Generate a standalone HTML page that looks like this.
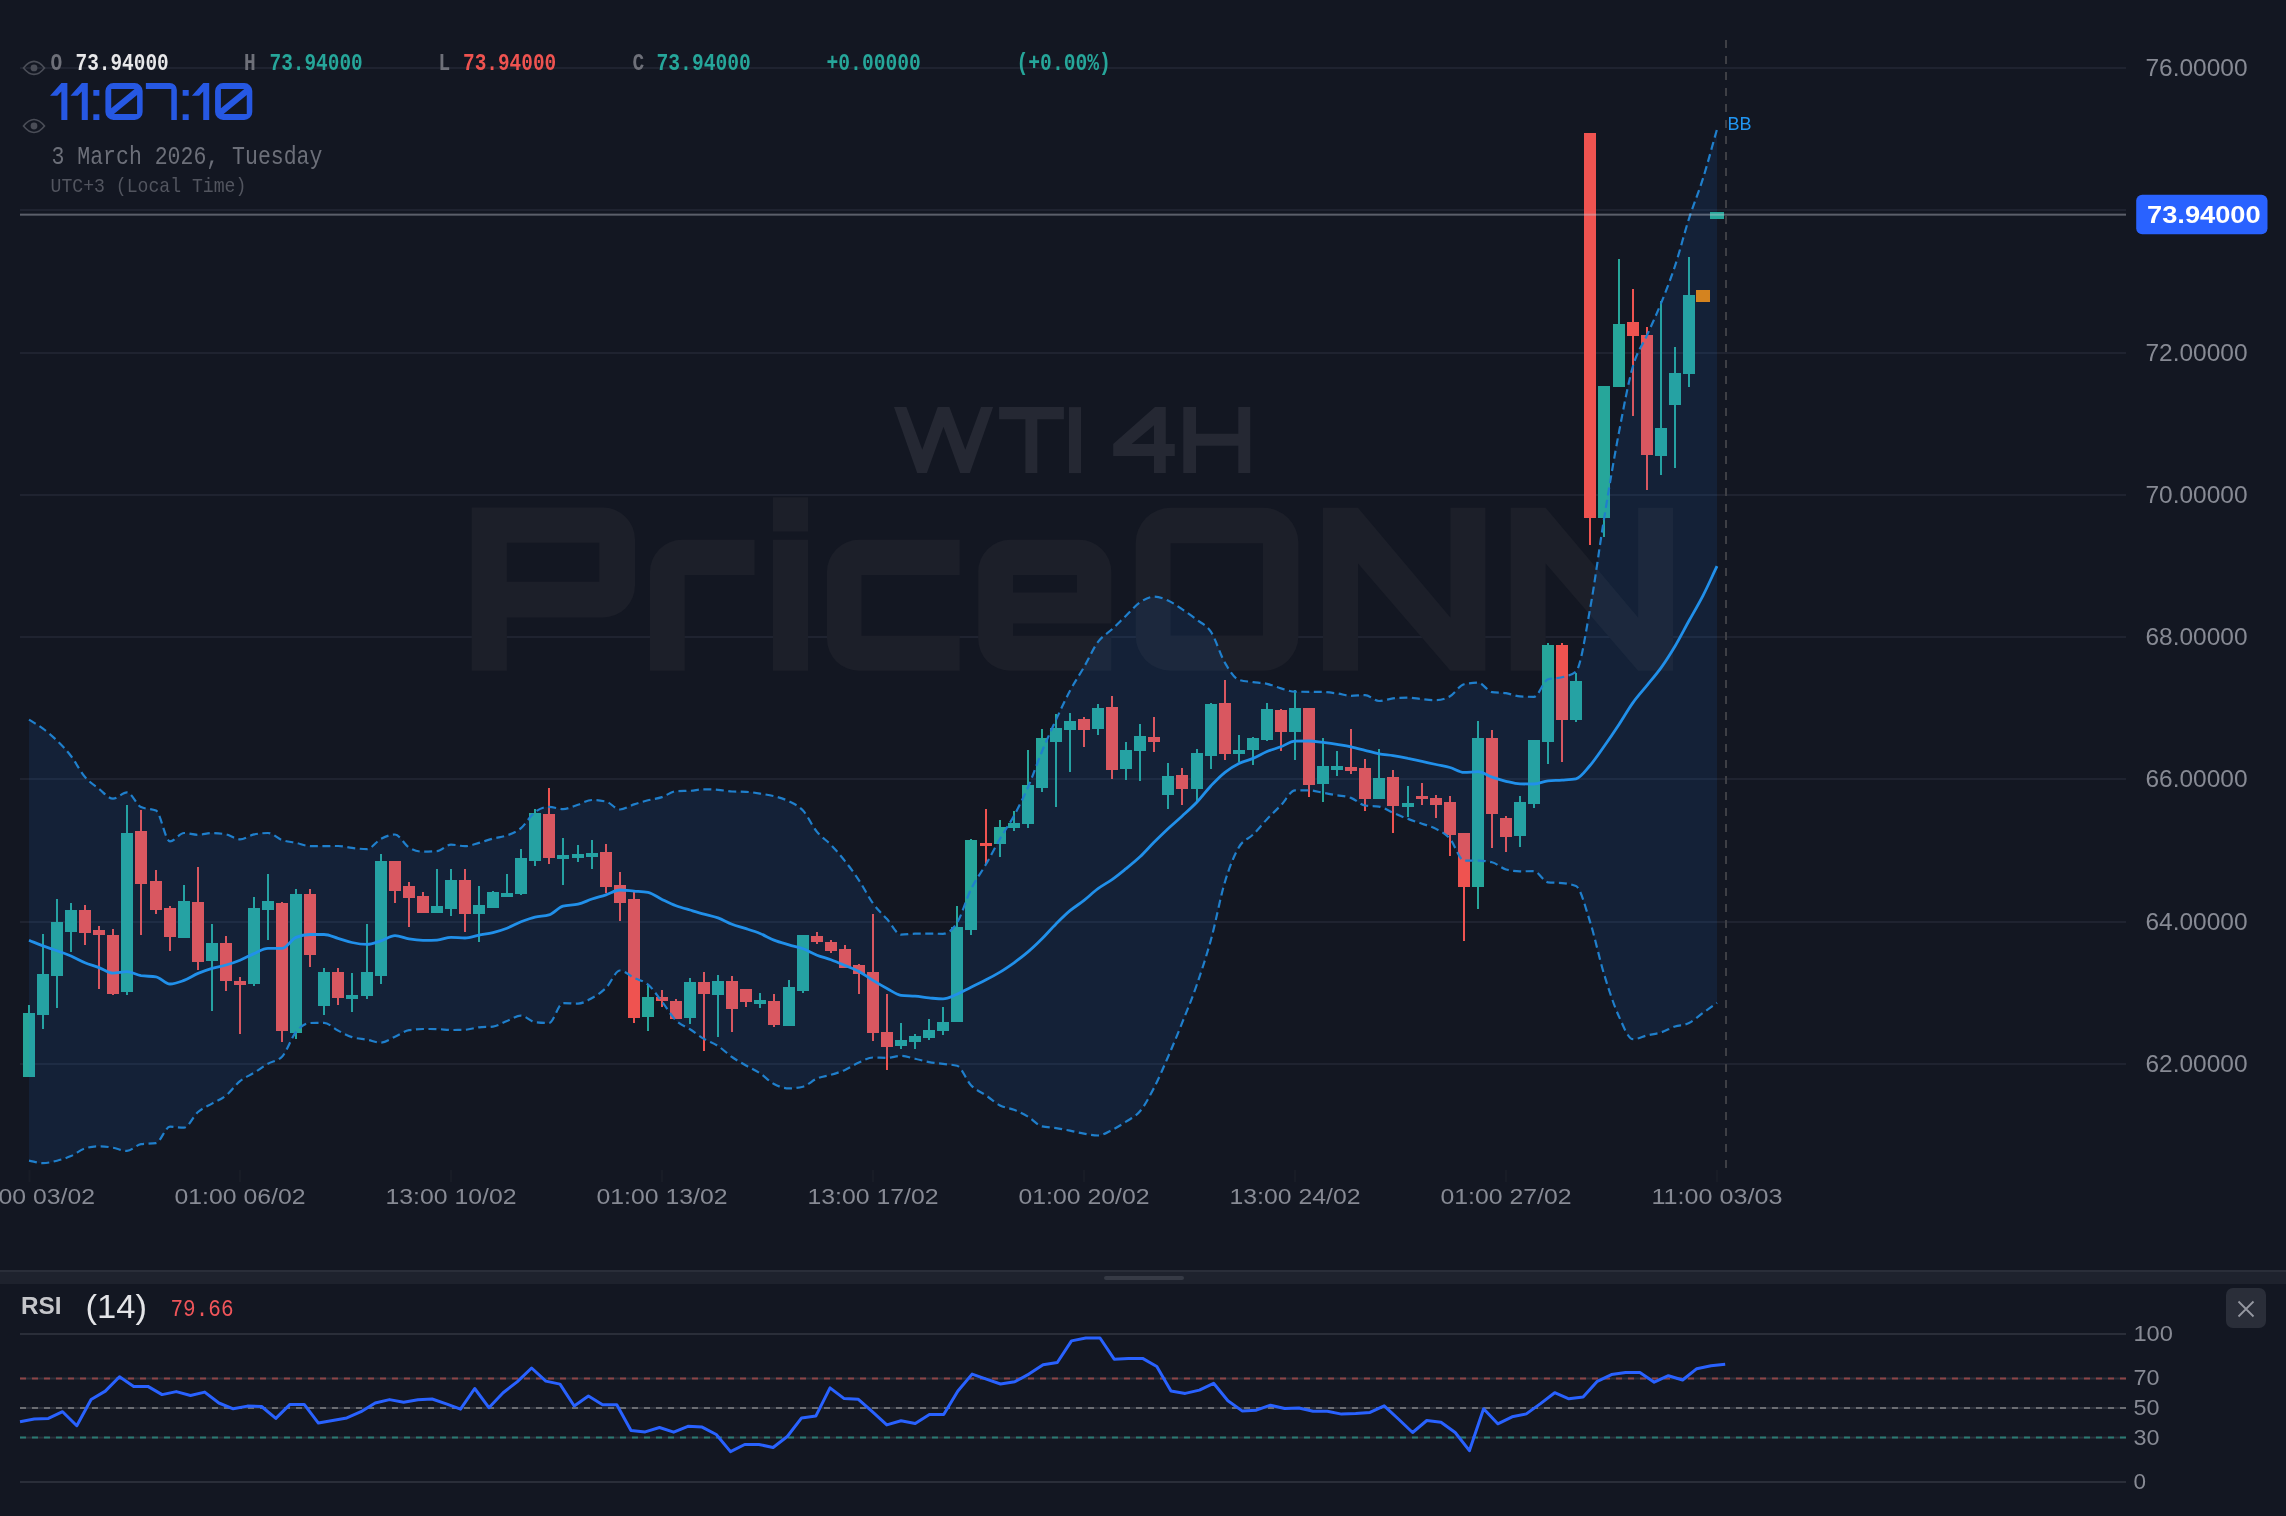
<!DOCTYPE html><html><head><meta charset="utf-8"><style>html,body{margin:0;padding:0;background:#131722;width:2286px;height:1516px;overflow:hidden;position:relative}</style></head><body><svg width="2286" height="1516" viewBox="0 0 2286 1516" style="position:absolute;left:0;top:0;will-change:transform">
<rect x="0" y="0" width="2286" height="1516" fill="#131722"/>
<rect x="20" y="67" width="2106" height="2" fill="#1f2330"/>
<rect x="20" y="209" width="2106" height="2" fill="#1f2330"/>
<rect x="20" y="352" width="2106" height="2" fill="#1f2330"/>
<rect x="20" y="494" width="2106" height="2" fill="#1f2330"/>
<rect x="20" y="636" width="2106" height="2" fill="#1f2330"/>
<rect x="20" y="778" width="2106" height="2" fill="#1f2330"/>
<rect x="20" y="921" width="2106" height="2" fill="#1f2330"/>
<rect x="20" y="1063" width="2106" height="2" fill="#1f2330"/>
<g><polygon fill="#252833" points="894.0,407.1 906.4,407.1 922.3,449.7 937.7,407.1 949.4,407.1 965.3,449.7 981.0,407.1 993.1,407.1 969.9,473.1 960.2,473.1 943.5,426.7 926.9,473.1 917.2,473.1"/><polygon fill="#252833" points="999.1,407.1 1063.9,407.1 1063.9,419.3 1037.3,419.3 1037.3,473.1 1025.4,473.1 1025.4,419.3 999.1,419.3"/><polygon fill="#252833" points="1069.0,407.1 1081.0,407.1 1081.0,473.1 1069.0,473.1"/><polygon fill="#252833" points="1183.3,407.1 1196.0,407.1 1196.0,433.8 1238.3,433.8 1238.3,407.1 1250.2,407.1 1250.2,473.1 1238.3,473.1 1238.3,445.8 1196.0,445.8 1196.0,473.1 1183.3,473.1"/><path fill="#252833" fill-rule="evenodd" d="M1155.0,407.1 L1165.8,407.1 L1165.8,444.1 L1174.8,444.1 L1174.8,456.0 L1165.8,456.0 L1165.8,473.1 L1154.0,473.1 L1154.0,456.0 L1113.2,456.0 L1113.2,444.1 Z M1131.6,444.1 L1154.0,425.3 L1154.0,444.1 Z"/></g>
<path fill="#1c1f29" fill-rule="evenodd" d="M471.7,507.6 H603 A32,32 0 0 1 635,539.6 V585.5 A32,32 0 0 1 603,617.5 H506.9 V670.8 H471.7 Z M506.9,542.8 V581.7 H599.2 V542.8 Z M650,670.8 V571.8 A32,32 0 0 1 682,539.8 H754.6 V575 H684.8 V670.8 Z M773,497.3 H808 V531.6 H773 Z M773,539.8 H808 V670.8 H773 Z M959.7,539.8 H859 A32,32 0 0 0 827,571.8 V638.8 A32,32 0 0 0 859,670.8 H959.7 V635.7 H861.5 V575 H959.7 Z M978.2,571.8 A32,32 0 0 1 1010.2,539.8 H1079.3 A32,32 0 0 1 1111.3,571.8 V623.4 H1013 V635.7 H1111.3 V670.8 H1010.2 A32,32 0 0 1 978.2,638.8 Z M1013,575 V592.6 H1077 V575 Z M1170.7,507.8 H1263.4 A35,35 0 0 1 1298.4,542.8 V635.7 A35,35 0 0 1 1263.4,670.7 H1170.7 A35,35 0 0 1 1135.7,635.7 V542.8 A35,35 0 0 1 1170.7,507.8 Z M1170.7,543.3 V635.4 H1262.9 V543.3 Z M1323,507.8 H1358 L1450.4,617.5 V507.8 H1485.4 V670.7 H1450.4 L1358,563.5 V670.7 H1323 Z M1510.7,507.8 H1545.7 L1638.1000000000001,617.5 V507.8 H1673.1000000000001 V670.7 H1638.1000000000001 L1545.7,563.5 V670.7 H1510.7 Z"/>
<g><rect x="28" y="1005" width="2" height="72" fill="#26a69a"/><rect x="23" y="1013" width="12" height="64" fill="#26a69a"/><rect x="42" y="934" width="2" height="95" fill="#26a69a"/><rect x="37" y="974" width="12" height="41" fill="#26a69a"/><rect x="56" y="899" width="2" height="109" fill="#26a69a"/><rect x="51" y="922" width="12" height="54" fill="#26a69a"/><rect x="70" y="903" width="2" height="49" fill="#26a69a"/><rect x="65" y="910" width="12" height="22" fill="#26a69a"/><rect x="84" y="905" width="2" height="40" fill="#ef5350"/><rect x="79" y="910" width="12" height="23" fill="#ef5350"/><rect x="98" y="926" width="2" height="63" fill="#ef5350"/><rect x="93" y="930" width="12" height="5" fill="#ef5350"/><rect x="112" y="929" width="2" height="66" fill="#ef5350"/><rect x="107" y="935" width="12" height="59" fill="#ef5350"/><rect x="126" y="805" width="2" height="190" fill="#26a69a"/><rect x="121" y="833" width="12" height="159" fill="#26a69a"/><rect x="140" y="810" width="2" height="125" fill="#ef5350"/><rect x="135" y="831" width="12" height="53" fill="#ef5350"/><rect x="155" y="870" width="2" height="44" fill="#ef5350"/><rect x="150" y="881" width="12" height="29" fill="#ef5350"/><rect x="169" y="906" width="2" height="45" fill="#ef5350"/><rect x="164" y="908" width="12" height="29" fill="#ef5350"/><rect x="183" y="885" width="2" height="53" fill="#26a69a"/><rect x="178" y="901" width="12" height="37" fill="#26a69a"/><rect x="197" y="867" width="2" height="103" fill="#ef5350"/><rect x="192" y="902" width="12" height="60" fill="#ef5350"/><rect x="211" y="924" width="2" height="87" fill="#26a69a"/><rect x="206" y="943" width="12" height="18" fill="#26a69a"/><rect x="225" y="936" width="2" height="55" fill="#ef5350"/><rect x="220" y="943" width="12" height="38" fill="#ef5350"/><rect x="239" y="977" width="2" height="57" fill="#ef5350"/><rect x="234" y="981" width="12" height="4" fill="#ef5350"/><rect x="253" y="897" width="2" height="89" fill="#26a69a"/><rect x="248" y="908" width="12" height="76" fill="#26a69a"/><rect x="267" y="874" width="2" height="66" fill="#26a69a"/><rect x="262" y="901" width="12" height="9" fill="#26a69a"/><rect x="281" y="902" width="2" height="140" fill="#ef5350"/><rect x="276" y="903" width="12" height="128" fill="#ef5350"/><rect x="295" y="889" width="2" height="150" fill="#26a69a"/><rect x="290" y="894" width="12" height="139" fill="#26a69a"/><rect x="309" y="889" width="2" height="78" fill="#ef5350"/><rect x="304" y="894" width="12" height="61" fill="#ef5350"/><rect x="323" y="968" width="2" height="47" fill="#26a69a"/><rect x="318" y="972" width="12" height="34" fill="#26a69a"/><rect x="337" y="968" width="2" height="37" fill="#ef5350"/><rect x="332" y="972" width="12" height="26" fill="#ef5350"/><rect x="351" y="973" width="2" height="39" fill="#26a69a"/><rect x="346" y="995" width="12" height="4" fill="#26a69a"/><rect x="366" y="924" width="2" height="75" fill="#26a69a"/><rect x="361" y="972" width="12" height="24" fill="#26a69a"/><rect x="380" y="854" width="2" height="130" fill="#26a69a"/><rect x="375" y="861" width="12" height="115" fill="#26a69a"/><rect x="394" y="861" width="2" height="42" fill="#ef5350"/><rect x="389" y="861" width="12" height="30" fill="#ef5350"/><rect x="408" y="882" width="2" height="45" fill="#ef5350"/><rect x="403" y="886" width="12" height="12" fill="#ef5350"/><rect x="422" y="892" width="2" height="21" fill="#ef5350"/><rect x="417" y="896" width="12" height="17" fill="#ef5350"/><rect x="436" y="869" width="2" height="44" fill="#26a69a"/><rect x="431" y="906" width="12" height="7" fill="#26a69a"/><rect x="450" y="869" width="2" height="47" fill="#26a69a"/><rect x="445" y="880" width="12" height="29" fill="#26a69a"/><rect x="464" y="869" width="2" height="63" fill="#ef5350"/><rect x="459" y="880" width="12" height="34" fill="#ef5350"/><rect x="478" y="886" width="2" height="56" fill="#26a69a"/><rect x="473" y="905" width="12" height="9" fill="#26a69a"/><rect x="492" y="891" width="2" height="17" fill="#26a69a"/><rect x="487" y="892" width="12" height="16" fill="#26a69a"/><rect x="506" y="874" width="2" height="23" fill="#26a69a"/><rect x="501" y="893" width="12" height="4" fill="#26a69a"/><rect x="520" y="849" width="2" height="46" fill="#26a69a"/><rect x="515" y="858" width="12" height="36" fill="#26a69a"/><rect x="534" y="809" width="2" height="57" fill="#26a69a"/><rect x="529" y="813" width="12" height="48" fill="#26a69a"/><rect x="548" y="788" width="2" height="76" fill="#ef5350"/><rect x="543" y="814" width="12" height="44" fill="#ef5350"/><rect x="562" y="838" width="2" height="47" fill="#26a69a"/><rect x="557" y="855" width="12" height="4" fill="#26a69a"/><rect x="577" y="845" width="2" height="17" fill="#26a69a"/><rect x="572" y="854" width="12" height="4" fill="#26a69a"/><rect x="591" y="840" width="2" height="29" fill="#26a69a"/><rect x="586" y="853" width="12" height="4" fill="#26a69a"/><rect x="605" y="844" width="2" height="49" fill="#ef5350"/><rect x="600" y="852" width="12" height="35" fill="#ef5350"/><rect x="619" y="872" width="2" height="49" fill="#ef5350"/><rect x="614" y="885" width="12" height="18" fill="#ef5350"/><rect x="633" y="892" width="2" height="131" fill="#ef5350"/><rect x="628" y="899" width="12" height="119" fill="#ef5350"/><rect x="647" y="985" width="2" height="46" fill="#26a69a"/><rect x="642" y="997" width="12" height="20" fill="#26a69a"/><rect x="661" y="990" width="2" height="17" fill="#ef5350"/><rect x="656" y="997" width="12" height="4" fill="#ef5350"/><rect x="675" y="999" width="2" height="20" fill="#ef5350"/><rect x="670" y="1001" width="12" height="18" fill="#ef5350"/><rect x="689" y="978" width="2" height="46" fill="#26a69a"/><rect x="684" y="982" width="12" height="36" fill="#26a69a"/><rect x="703" y="972" width="2" height="79" fill="#ef5350"/><rect x="698" y="982" width="12" height="12" fill="#ef5350"/><rect x="717" y="975" width="2" height="62" fill="#26a69a"/><rect x="712" y="981" width="12" height="14" fill="#26a69a"/><rect x="731" y="976" width="2" height="56" fill="#ef5350"/><rect x="726" y="981" width="12" height="28" fill="#ef5350"/><rect x="745" y="989" width="2" height="18" fill="#ef5350"/><rect x="740" y="989" width="12" height="13" fill="#ef5350"/><rect x="759" y="993" width="2" height="15" fill="#26a69a"/><rect x="754" y="1000" width="12" height="4" fill="#26a69a"/><rect x="773" y="994" width="2" height="33" fill="#ef5350"/><rect x="768" y="1001" width="12" height="24" fill="#ef5350"/><rect x="788" y="980" width="2" height="46" fill="#26a69a"/><rect x="783" y="987" width="12" height="39" fill="#26a69a"/><rect x="802" y="935" width="2" height="58" fill="#26a69a"/><rect x="797" y="935" width="12" height="56" fill="#26a69a"/><rect x="816" y="932" width="2" height="12" fill="#ef5350"/><rect x="811" y="936" width="12" height="6" fill="#ef5350"/><rect x="830" y="940" width="2" height="13" fill="#ef5350"/><rect x="825" y="942" width="12" height="9" fill="#ef5350"/><rect x="844" y="945" width="2" height="23" fill="#ef5350"/><rect x="839" y="949" width="12" height="19" fill="#ef5350"/><rect x="858" y="964" width="2" height="30" fill="#ef5350"/><rect x="853" y="965" width="12" height="9" fill="#ef5350"/><rect x="872" y="914" width="2" height="127" fill="#ef5350"/><rect x="867" y="972" width="12" height="61" fill="#ef5350"/><rect x="886" y="994" width="2" height="76" fill="#ef5350"/><rect x="881" y="1032" width="12" height="15" fill="#ef5350"/><rect x="900" y="1023" width="2" height="26" fill="#26a69a"/><rect x="895" y="1040" width="12" height="6" fill="#26a69a"/><rect x="914" y="1034" width="2" height="15" fill="#26a69a"/><rect x="909" y="1036" width="12" height="6" fill="#26a69a"/><rect x="928" y="1019" width="2" height="21" fill="#26a69a"/><rect x="923" y="1030" width="12" height="8" fill="#26a69a"/><rect x="942" y="1007" width="2" height="28" fill="#26a69a"/><rect x="937" y="1022" width="12" height="9" fill="#26a69a"/><rect x="956" y="906" width="2" height="116" fill="#26a69a"/><rect x="951" y="927" width="12" height="95" fill="#26a69a"/><rect x="970" y="839" width="2" height="96" fill="#26a69a"/><rect x="965" y="840" width="12" height="90" fill="#26a69a"/><rect x="985" y="809" width="2" height="55" fill="#ef5350"/><rect x="980" y="843" width="12" height="3" fill="#ef5350"/><rect x="999" y="820" width="2" height="37" fill="#26a69a"/><rect x="994" y="827" width="12" height="17" fill="#26a69a"/><rect x="1013" y="811" width="2" height="20" fill="#26a69a"/><rect x="1008" y="823" width="12" height="5" fill="#26a69a"/><rect x="1027" y="750" width="2" height="78" fill="#26a69a"/><rect x="1022" y="785" width="12" height="39" fill="#26a69a"/><rect x="1041" y="729" width="2" height="63" fill="#26a69a"/><rect x="1036" y="738" width="12" height="50" fill="#26a69a"/><rect x="1055" y="714" width="2" height="93" fill="#26a69a"/><rect x="1050" y="728" width="12" height="14" fill="#26a69a"/><rect x="1069" y="713" width="2" height="59" fill="#26a69a"/><rect x="1064" y="721" width="12" height="9" fill="#26a69a"/><rect x="1083" y="717" width="2" height="30" fill="#ef5350"/><rect x="1078" y="719" width="12" height="11" fill="#ef5350"/><rect x="1097" y="704" width="2" height="31" fill="#26a69a"/><rect x="1092" y="708" width="12" height="21" fill="#26a69a"/><rect x="1111" y="696" width="2" height="83" fill="#ef5350"/><rect x="1106" y="707" width="12" height="63" fill="#ef5350"/><rect x="1125" y="742" width="2" height="38" fill="#26a69a"/><rect x="1120" y="750" width="12" height="19" fill="#26a69a"/><rect x="1139" y="724" width="2" height="57" fill="#26a69a"/><rect x="1134" y="736" width="12" height="15" fill="#26a69a"/><rect x="1153" y="717" width="2" height="35" fill="#ef5350"/><rect x="1148" y="737" width="12" height="5" fill="#ef5350"/><rect x="1167" y="763" width="2" height="46" fill="#26a69a"/><rect x="1162" y="776" width="12" height="19" fill="#26a69a"/><rect x="1181" y="768" width="2" height="37" fill="#ef5350"/><rect x="1176" y="775" width="12" height="14" fill="#ef5350"/><rect x="1196" y="749" width="2" height="52" fill="#26a69a"/><rect x="1191" y="753" width="12" height="36" fill="#26a69a"/><rect x="1210" y="703" width="2" height="66" fill="#26a69a"/><rect x="1205" y="704" width="12" height="52" fill="#26a69a"/><rect x="1224" y="680" width="2" height="80" fill="#ef5350"/><rect x="1219" y="703" width="12" height="51" fill="#ef5350"/><rect x="1238" y="735" width="2" height="27" fill="#26a69a"/><rect x="1233" y="750" width="12" height="4" fill="#26a69a"/><rect x="1252" y="737" width="2" height="28" fill="#26a69a"/><rect x="1247" y="738" width="12" height="12" fill="#26a69a"/><rect x="1266" y="703" width="2" height="38" fill="#26a69a"/><rect x="1261" y="709" width="12" height="31" fill="#26a69a"/><rect x="1280" y="709" width="2" height="42" fill="#ef5350"/><rect x="1275" y="710" width="12" height="22" fill="#ef5350"/><rect x="1294" y="690" width="2" height="70" fill="#26a69a"/><rect x="1289" y="708" width="12" height="24" fill="#26a69a"/><rect x="1308" y="708" width="2" height="89" fill="#ef5350"/><rect x="1303" y="708" width="12" height="77" fill="#ef5350"/><rect x="1322" y="738" width="2" height="64" fill="#26a69a"/><rect x="1317" y="766" width="12" height="18" fill="#26a69a"/><rect x="1336" y="751" width="2" height="25" fill="#26a69a"/><rect x="1331" y="766" width="12" height="4" fill="#26a69a"/><rect x="1350" y="729" width="2" height="45" fill="#ef5350"/><rect x="1345" y="767" width="12" height="4" fill="#ef5350"/><rect x="1364" y="759" width="2" height="52" fill="#ef5350"/><rect x="1359" y="768" width="12" height="31" fill="#ef5350"/><rect x="1378" y="749" width="2" height="50" fill="#26a69a"/><rect x="1373" y="778" width="12" height="21" fill="#26a69a"/><rect x="1392" y="770" width="2" height="63" fill="#ef5350"/><rect x="1387" y="777" width="12" height="29" fill="#ef5350"/><rect x="1407" y="786" width="2" height="31" fill="#26a69a"/><rect x="1402" y="803" width="12" height="4" fill="#26a69a"/><rect x="1421" y="783" width="2" height="22" fill="#ef5350"/><rect x="1416" y="796" width="12" height="3" fill="#ef5350"/><rect x="1435" y="795" width="2" height="23" fill="#ef5350"/><rect x="1430" y="798" width="12" height="7" fill="#ef5350"/><rect x="1449" y="796" width="2" height="60" fill="#ef5350"/><rect x="1444" y="802" width="12" height="33" fill="#ef5350"/><rect x="1463" y="833" width="2" height="108" fill="#ef5350"/><rect x="1458" y="833" width="12" height="54" fill="#ef5350"/><rect x="1477" y="721" width="2" height="188" fill="#26a69a"/><rect x="1472" y="738" width="12" height="149" fill="#26a69a"/><rect x="1491" y="730" width="2" height="118" fill="#ef5350"/><rect x="1486" y="738" width="12" height="76" fill="#ef5350"/><rect x="1505" y="816" width="2" height="36" fill="#ef5350"/><rect x="1500" y="818" width="12" height="19" fill="#ef5350"/><rect x="1519" y="796" width="2" height="51" fill="#26a69a"/><rect x="1514" y="802" width="12" height="34" fill="#26a69a"/><rect x="1533" y="740" width="2" height="68" fill="#26a69a"/><rect x="1528" y="740" width="12" height="64" fill="#26a69a"/><rect x="1547" y="643" width="2" height="121" fill="#26a69a"/><rect x="1542" y="645" width="12" height="97" fill="#26a69a"/><rect x="1561" y="643" width="2" height="119" fill="#ef5350"/><rect x="1556" y="645" width="12" height="75" fill="#ef5350"/><rect x="1575" y="673" width="2" height="49" fill="#26a69a"/><rect x="1570" y="681" width="12" height="39" fill="#26a69a"/><rect x="1589" y="133" width="2" height="412" fill="#ef5350"/><rect x="1584" y="133" width="12" height="385" fill="#ef5350"/><rect x="1603" y="386" width="2" height="151" fill="#26a69a"/><rect x="1598" y="386" width="12" height="132" fill="#26a69a"/><rect x="1618" y="259" width="2" height="128" fill="#26a69a"/><rect x="1613" y="324" width="12" height="63" fill="#26a69a"/><rect x="1632" y="289" width="2" height="127" fill="#ef5350"/><rect x="1627" y="322" width="12" height="14" fill="#ef5350"/><rect x="1646" y="327" width="2" height="163" fill="#ef5350"/><rect x="1641" y="335" width="12" height="120" fill="#ef5350"/><rect x="1660" y="301" width="2" height="174" fill="#26a69a"/><rect x="1655" y="428" width="12" height="28" fill="#26a69a"/><rect x="1674" y="347" width="2" height="121" fill="#26a69a"/><rect x="1669" y="373" width="12" height="32" fill="#26a69a"/><rect x="1688" y="257" width="2" height="130" fill="#26a69a"/><rect x="1683" y="295" width="12" height="79" fill="#26a69a"/></g>
<path d="M29.0,719.6 C33.7,722.6 38.3,725.2 43.0,728.7 C47.7,732.2 52.3,736.1 57.0,740.6 C61.7,745.1 66.3,749.9 71.0,756.0 C75.7,762.1 80.3,771.5 85.0,777.0 C89.7,782.5 94.3,785.3 99.0,788.9 C103.7,792.5 108.3,798.7 113.0,798.7 C117.7,798.7 122.3,792.4 127.0,792.4 C131.7,792.4 136.3,804.9 141.0,807.1 C146.0,809.4 151.0,808.3 156.0,810.6 C160.7,812.8 165.3,841.4 170.0,841.4 C174.7,841.4 179.3,833.0 184.0,833.0 C188.7,833.0 193.3,834.8 198.0,834.8 C202.7,834.8 207.3,833.0 212.0,833.0 C216.7,833.0 221.3,833.5 226.0,834.4 C230.7,835.3 235.3,839.3 240.0,839.3 C244.7,839.3 249.3,835.3 254.0,834.4 C258.7,833.5 263.3,833.0 268.0,833.0 C272.7,833.0 277.3,838.4 282.0,840.0 C286.7,841.6 291.3,841.9 296.0,842.9 C300.7,843.9 305.3,846.0 310.0,846.1 C314.7,846.1 319.3,846.1 324.0,846.1 C328.7,846.1 333.3,846.0 338.0,846.0 C342.7,846.0 347.3,847.4 352.0,847.9 C357.0,848.5 362.0,849.1 367.0,849.1 C371.7,849.1 376.3,841.3 381.0,838.8 C385.7,836.4 390.3,834.5 395.0,834.5 C399.7,834.5 404.3,844.8 409.0,847.5 C413.7,850.3 418.3,851.7 423.0,851.7 C427.7,851.7 432.3,851.5 437.0,851.2 C441.7,850.9 446.3,844.6 451.0,844.6 C455.7,844.6 460.3,846.2 465.0,846.2 C469.7,846.2 474.3,844.2 479.0,842.9 C483.7,841.6 488.3,839.8 493.0,838.6 C497.7,837.3 502.3,837.1 507.0,835.4 C511.7,833.6 516.3,832.0 521.0,828.1 C525.7,824.2 530.3,815.4 535.0,812.0 C539.7,808.6 544.3,806.8 549.0,806.8 C553.7,806.8 558.3,809.1 563.0,809.1 C568.0,809.1 573.0,806.2 578.0,804.7 C582.7,803.2 587.3,800.0 592.0,800.0 C596.7,800.0 601.3,800.6 606.0,801.6 C610.7,802.6 615.3,809.5 620.0,809.5 C624.7,809.5 629.3,805.9 634.0,804.4 C638.7,802.8 643.3,801.5 648.0,800.3 C652.7,799.1 657.3,798.6 662.0,797.1 C666.7,795.6 671.3,791.5 676.0,791.2 C680.7,790.9 685.3,791.0 690.0,790.8 C694.7,790.5 699.3,789.3 704.0,789.3 C708.7,789.3 713.3,789.5 718.0,789.8 C722.7,790.1 727.3,791.4 732.0,791.5 C736.7,791.7 741.3,791.6 746.0,791.8 C750.7,792.0 755.3,792.9 760.0,793.6 C764.7,794.4 769.3,795.0 774.0,796.2 C779.0,797.5 784.0,798.7 789.0,801.3 C793.7,803.6 798.3,805.5 803.0,810.6 C807.7,815.7 812.3,826.2 817.0,831.9 C821.7,837.6 826.3,840.0 831.0,844.9 C835.7,849.7 840.3,855.2 845.0,861.1 C849.7,867.0 854.3,873.2 859.0,880.3 C863.7,887.3 868.3,896.9 873.0,903.4 C877.7,909.9 882.3,913.9 887.0,919.1 C891.7,924.3 896.3,934.7 901.0,934.7 C905.7,934.7 910.3,933.8 915.0,933.7 C919.7,933.7 924.3,933.6 929.0,933.6 C933.7,933.6 938.3,933.8 943.0,933.8 C947.7,933.8 952.3,930.2 957.0,922.8 C961.7,915.5 966.3,898.7 971.0,889.2 C976.0,879.0 981.0,872.9 986.0,864.2 C990.7,856.1 995.3,846.9 1000.0,838.8 C1004.7,830.7 1009.3,824.4 1014.0,815.7 C1018.7,807.1 1023.3,797.9 1028.0,787.2 C1032.7,776.4 1037.3,762.5 1042.0,751.3 C1046.7,740.0 1051.3,729.9 1056.0,719.8 C1060.7,709.7 1065.3,699.5 1070.0,690.7 C1074.7,681.9 1079.3,675.3 1084.0,667.1 C1088.7,659.0 1093.3,648.2 1098.0,641.9 C1102.7,635.6 1107.3,633.7 1112.0,629.3 C1116.7,625.0 1121.3,620.2 1126.0,615.7 C1130.7,611.3 1135.3,605.5 1140.0,602.4 C1144.7,599.2 1149.3,596.7 1154.0,596.7 C1158.7,596.7 1163.3,598.4 1168.0,600.5 C1172.7,602.6 1177.3,606.1 1182.0,609.2 C1187.0,612.5 1192.0,615.9 1197.0,619.9 C1201.7,623.6 1206.3,624.7 1211.0,631.9 C1215.7,639.1 1220.3,654.9 1225.0,662.9 C1229.7,670.9 1234.3,678.5 1239.0,679.9 C1243.7,681.4 1248.3,681.4 1253.0,682.1 C1257.7,682.7 1262.3,682.8 1267.0,683.8 C1271.7,684.9 1276.3,687.1 1281.0,688.4 C1285.7,689.7 1290.3,691.7 1295.0,691.7 C1299.7,691.8 1304.3,691.7 1309.0,691.8 C1313.7,691.8 1318.3,691.9 1323.0,692.0 C1327.7,692.2 1332.3,692.8 1337.0,693.4 C1341.7,694.0 1346.3,695.8 1351.0,695.8 C1355.7,695.8 1360.3,695.1 1365.0,695.1 C1369.7,695.1 1374.3,701.0 1379.0,701.0 C1383.7,701.0 1388.3,699.0 1393.0,698.4 C1398.0,697.9 1403.0,697.6 1408.0,697.6 C1412.7,697.6 1417.3,698.7 1422.0,699.1 C1426.7,699.6 1431.3,700.2 1436.0,700.2 C1440.7,700.2 1445.3,698.9 1450.0,696.2 C1454.7,693.6 1459.3,685.4 1464.0,684.3 C1468.7,683.2 1473.3,682.6 1478.0,682.6 C1482.7,682.6 1487.3,691.4 1492.0,692.1 C1496.7,692.8 1501.3,692.4 1506.0,693.1 C1510.7,693.8 1515.3,696.2 1520.0,696.4 C1524.7,696.7 1529.3,696.8 1534.0,696.8 C1538.7,696.8 1543.3,680.6 1548.0,679.3 C1552.7,677.9 1557.3,678.6 1562.0,677.3 C1566.7,676.0 1571.3,675.3 1576.0,671.5 C1580.7,667.6 1585.3,634.7 1590.0,609.3 C1594.7,583.9 1599.3,547.7 1604.0,519.0 C1609.0,488.4 1614.0,458.3 1619.0,432.1 C1623.7,407.7 1628.3,382.1 1633.0,366.0 C1637.7,349.8 1642.3,345.8 1647.0,335.3 C1651.7,324.9 1656.3,314.9 1661.0,303.4 C1665.7,291.8 1670.3,280.1 1675.0,266.0 C1679.7,251.9 1684.3,233.2 1689.0,218.6 C1693.7,204.0 1698.3,193.3 1703.0,178.4 C1707.7,163.6 1712.3,145.7 1717.0,129.4 L1717.0,1002.9 C1712.3,1006.3 1707.7,1009.5 1703.0,1012.9 C1698.3,1016.2 1693.7,1020.8 1689.0,1023.1 C1684.3,1025.4 1679.7,1025.0 1675.0,1026.5 C1670.3,1028.1 1665.7,1030.9 1661.0,1032.4 C1656.3,1033.9 1651.7,1034.3 1647.0,1035.4 C1642.3,1036.6 1637.7,1039.2 1633.0,1039.2 C1628.3,1039.2 1623.7,1026.9 1619.0,1016.6 C1614.0,1005.6 1609.0,990.4 1604.0,973.9 C1599.3,958.5 1594.7,936.3 1590.0,921.6 C1585.3,907.0 1580.7,888.2 1576.0,886.1 C1571.3,884.1 1566.7,883.5 1562.0,883.1 C1557.3,882.6 1552.7,882.8 1548.0,882.3 C1543.3,881.9 1538.7,871.2 1534.0,871.2 C1529.3,871.2 1524.7,871.3 1520.0,871.3 C1515.3,871.3 1510.7,870.7 1506.0,869.5 C1501.3,868.2 1496.7,863.3 1492.0,862.3 C1487.3,861.2 1482.7,860.8 1478.0,860.7 C1473.3,860.6 1468.7,860.7 1464.0,860.6 C1459.3,860.5 1454.7,844.1 1450.0,838.8 C1445.3,833.5 1440.7,831.4 1436.0,828.9 C1431.3,826.4 1426.7,825.4 1422.0,823.7 C1417.3,822.1 1412.7,820.7 1408.0,818.9 C1403.0,817.1 1398.0,814.9 1393.0,812.7 C1388.3,810.7 1383.7,807.3 1379.0,806.6 C1374.3,805.9 1369.7,806.3 1365.0,805.5 C1360.3,804.8 1355.7,799.6 1351.0,797.9 C1346.3,796.1 1341.7,796.1 1337.0,795.3 C1332.3,794.4 1327.7,793.7 1323.0,792.8 C1318.3,792.0 1313.7,790.3 1309.0,790.3 C1304.3,790.3 1299.7,790.3 1295.0,790.4 C1290.3,790.5 1285.7,800.4 1281.0,805.2 C1276.3,810.0 1271.7,814.3 1267.0,819.2 C1262.3,824.1 1257.7,830.1 1253.0,834.7 C1248.3,839.3 1243.7,839.2 1239.0,847.1 C1234.3,854.9 1229.7,866.3 1225.0,881.7 C1220.3,897.2 1215.7,922.5 1211.0,939.5 C1206.3,956.6 1201.7,970.6 1197.0,984.2 C1192.0,998.7 1187.0,1010.7 1182.0,1023.2 C1177.3,1034.9 1172.7,1046.2 1168.0,1057.0 C1163.3,1067.8 1158.7,1078.8 1154.0,1087.9 C1149.3,1096.9 1144.7,1105.7 1140.0,1111.3 C1135.3,1116.9 1130.7,1118.6 1126.0,1121.7 C1121.3,1124.8 1116.7,1127.6 1112.0,1129.9 C1107.3,1132.2 1102.7,1135.5 1098.0,1135.5 C1093.3,1135.5 1088.7,1134.5 1084.0,1133.7 C1079.3,1132.9 1074.7,1131.6 1070.0,1130.7 C1065.3,1129.8 1060.7,1128.8 1056.0,1128.1 C1051.3,1127.4 1046.7,1127.5 1042.0,1126.4 C1037.3,1125.2 1032.7,1119.5 1028.0,1116.7 C1023.3,1114.0 1018.7,1111.7 1014.0,1109.8 C1009.3,1107.9 1004.7,1107.8 1000.0,1105.4 C995.3,1103.0 990.7,1098.6 986.0,1095.4 C981.0,1091.9 976.0,1090.4 971.0,1085.2 C966.3,1080.3 961.7,1066.9 957.0,1065.7 C952.3,1064.5 947.7,1064.6 943.0,1063.9 C938.3,1063.3 933.7,1062.9 929.0,1062.1 C924.3,1061.2 919.7,1059.7 915.0,1058.7 C910.3,1057.7 905.7,1055.9 901.0,1055.9 C896.3,1055.9 891.7,1057.8 887.0,1057.8 C882.3,1057.8 877.7,1057.5 873.0,1057.5 C868.3,1057.5 863.7,1060.5 859.0,1062.6 C854.3,1064.6 849.7,1067.8 845.0,1069.9 C840.3,1071.9 835.7,1073.4 831.0,1074.8 C826.3,1076.2 821.7,1076.5 817.0,1078.5 C812.3,1080.5 807.7,1085.6 803.0,1086.7 C798.3,1087.8 793.7,1088.4 789.0,1088.4 C784.0,1088.4 779.0,1086.7 774.0,1084.0 C769.3,1081.5 764.7,1076.4 760.0,1073.3 C755.3,1070.2 750.7,1068.2 746.0,1065.5 C741.3,1062.8 736.7,1060.3 732.0,1057.0 C727.3,1053.8 722.7,1049.0 718.0,1046.0 C713.3,1042.9 708.7,1041.7 704.0,1038.9 C699.3,1036.1 694.7,1032.4 690.0,1029.3 C685.3,1026.3 680.7,1025.1 676.0,1020.5 C671.3,1015.9 666.7,1007.7 662.0,1001.7 C657.3,995.7 652.7,988.5 648.0,984.5 C643.3,980.5 638.7,980.3 634.0,977.9 C629.3,975.6 624.7,970.5 620.0,970.5 C615.3,970.5 610.7,983.4 606.0,988.0 C601.3,992.5 596.7,995.4 592.0,998.0 C587.3,1000.6 582.7,1003.6 578.0,1003.6 C573.0,1003.6 568.0,1003.1 563.0,1003.1 C558.3,1003.1 553.7,1023.0 549.0,1023.0 C544.3,1023.0 539.7,1022.7 535.0,1022.1 C530.3,1021.6 525.7,1015.6 521.0,1015.6 C516.3,1015.6 511.7,1019.1 507.0,1021.0 C502.3,1022.8 497.7,1026.1 493.0,1026.6 C488.3,1027.1 483.7,1026.8 479.0,1027.3 C474.3,1027.8 469.7,1029.6 465.0,1029.8 C460.3,1029.9 455.7,1030.0 451.0,1030.0 C446.3,1030.0 441.7,1029.1 437.0,1029.1 C432.3,1029.0 427.7,1029.0 423.0,1029.0 C418.3,1029.0 413.7,1029.4 409.0,1030.2 C404.3,1031.0 399.7,1034.6 395.0,1036.7 C390.3,1038.8 385.7,1042.7 381.0,1042.7 C376.3,1042.7 371.7,1040.6 367.0,1039.7 C362.0,1038.8 357.0,1038.7 352.0,1037.1 C347.3,1035.6 342.7,1033.0 338.0,1030.6 C333.3,1028.2 328.7,1022.8 324.0,1022.8 C319.3,1022.8 314.7,1022.9 310.0,1023.0 C305.3,1023.2 300.7,1026.4 296.0,1032.0 C291.3,1037.6 286.7,1052.0 282.0,1056.7 C277.3,1061.4 272.7,1061.0 268.0,1063.7 C263.3,1066.4 258.7,1069.9 254.0,1072.8 C249.3,1075.7 244.7,1077.4 240.0,1081.2 C235.3,1085.0 230.7,1091.9 226.0,1095.6 C221.3,1099.3 216.7,1100.9 212.0,1103.6 C207.3,1106.3 202.7,1108.0 198.0,1112.0 C193.3,1116.0 188.7,1127.7 184.0,1127.7 C179.3,1127.7 174.7,1126.7 170.0,1126.7 C165.3,1126.7 160.7,1142.4 156.0,1143.1 C151.0,1143.8 146.0,1143.5 141.0,1144.2 C136.3,1144.9 131.7,1150.9 127.0,1150.9 C122.3,1150.9 117.7,1148.5 113.0,1147.7 C108.3,1146.9 103.7,1146.3 99.0,1146.3 C94.3,1146.3 89.7,1147.0 85.0,1148.4 C80.3,1149.8 75.7,1154.0 71.0,1156.1 C66.3,1158.1 61.7,1159.5 57.0,1160.7 C52.3,1161.9 47.7,1163.1 43.0,1163.1 C38.3,1163.1 33.7,1161.5 29.0,1160.7 Z" fill="rgba(30,125,250,0.1)"/>
<path d="M29.0,719.6 C33.7,722.6 38.3,725.2 43.0,728.7 C47.7,732.2 52.3,736.1 57.0,740.6 C61.7,745.1 66.3,749.9 71.0,756.0 C75.7,762.1 80.3,771.5 85.0,777.0 C89.7,782.5 94.3,785.3 99.0,788.9 C103.7,792.5 108.3,798.7 113.0,798.7 C117.7,798.7 122.3,792.4 127.0,792.4 C131.7,792.4 136.3,804.9 141.0,807.1 C146.0,809.4 151.0,808.3 156.0,810.6 C160.7,812.8 165.3,841.4 170.0,841.4 C174.7,841.4 179.3,833.0 184.0,833.0 C188.7,833.0 193.3,834.8 198.0,834.8 C202.7,834.8 207.3,833.0 212.0,833.0 C216.7,833.0 221.3,833.5 226.0,834.4 C230.7,835.3 235.3,839.3 240.0,839.3 C244.7,839.3 249.3,835.3 254.0,834.4 C258.7,833.5 263.3,833.0 268.0,833.0 C272.7,833.0 277.3,838.4 282.0,840.0 C286.7,841.6 291.3,841.9 296.0,842.9 C300.7,843.9 305.3,846.0 310.0,846.1 C314.7,846.1 319.3,846.1 324.0,846.1 C328.7,846.1 333.3,846.0 338.0,846.0 C342.7,846.0 347.3,847.4 352.0,847.9 C357.0,848.5 362.0,849.1 367.0,849.1 C371.7,849.1 376.3,841.3 381.0,838.8 C385.7,836.4 390.3,834.5 395.0,834.5 C399.7,834.5 404.3,844.8 409.0,847.5 C413.7,850.3 418.3,851.7 423.0,851.7 C427.7,851.7 432.3,851.5 437.0,851.2 C441.7,850.9 446.3,844.6 451.0,844.6 C455.7,844.6 460.3,846.2 465.0,846.2 C469.7,846.2 474.3,844.2 479.0,842.9 C483.7,841.6 488.3,839.8 493.0,838.6 C497.7,837.3 502.3,837.1 507.0,835.4 C511.7,833.6 516.3,832.0 521.0,828.1 C525.7,824.2 530.3,815.4 535.0,812.0 C539.7,808.6 544.3,806.8 549.0,806.8 C553.7,806.8 558.3,809.1 563.0,809.1 C568.0,809.1 573.0,806.2 578.0,804.7 C582.7,803.2 587.3,800.0 592.0,800.0 C596.7,800.0 601.3,800.6 606.0,801.6 C610.7,802.6 615.3,809.5 620.0,809.5 C624.7,809.5 629.3,805.9 634.0,804.4 C638.7,802.8 643.3,801.5 648.0,800.3 C652.7,799.1 657.3,798.6 662.0,797.1 C666.7,795.6 671.3,791.5 676.0,791.2 C680.7,790.9 685.3,791.0 690.0,790.8 C694.7,790.5 699.3,789.3 704.0,789.3 C708.7,789.3 713.3,789.5 718.0,789.8 C722.7,790.1 727.3,791.4 732.0,791.5 C736.7,791.7 741.3,791.6 746.0,791.8 C750.7,792.0 755.3,792.9 760.0,793.6 C764.7,794.4 769.3,795.0 774.0,796.2 C779.0,797.5 784.0,798.7 789.0,801.3 C793.7,803.6 798.3,805.5 803.0,810.6 C807.7,815.7 812.3,826.2 817.0,831.9 C821.7,837.6 826.3,840.0 831.0,844.9 C835.7,849.7 840.3,855.2 845.0,861.1 C849.7,867.0 854.3,873.2 859.0,880.3 C863.7,887.3 868.3,896.9 873.0,903.4 C877.7,909.9 882.3,913.9 887.0,919.1 C891.7,924.3 896.3,934.7 901.0,934.7 C905.7,934.7 910.3,933.8 915.0,933.7 C919.7,933.7 924.3,933.6 929.0,933.6 C933.7,933.6 938.3,933.8 943.0,933.8 C947.7,933.8 952.3,930.2 957.0,922.8 C961.7,915.5 966.3,898.7 971.0,889.2 C976.0,879.0 981.0,872.9 986.0,864.2 C990.7,856.1 995.3,846.9 1000.0,838.8 C1004.7,830.7 1009.3,824.4 1014.0,815.7 C1018.7,807.1 1023.3,797.9 1028.0,787.2 C1032.7,776.4 1037.3,762.5 1042.0,751.3 C1046.7,740.0 1051.3,729.9 1056.0,719.8 C1060.7,709.7 1065.3,699.5 1070.0,690.7 C1074.7,681.9 1079.3,675.3 1084.0,667.1 C1088.7,659.0 1093.3,648.2 1098.0,641.9 C1102.7,635.6 1107.3,633.7 1112.0,629.3 C1116.7,625.0 1121.3,620.2 1126.0,615.7 C1130.7,611.3 1135.3,605.5 1140.0,602.4 C1144.7,599.2 1149.3,596.7 1154.0,596.7 C1158.7,596.7 1163.3,598.4 1168.0,600.5 C1172.7,602.6 1177.3,606.1 1182.0,609.2 C1187.0,612.5 1192.0,615.9 1197.0,619.9 C1201.7,623.6 1206.3,624.7 1211.0,631.9 C1215.7,639.1 1220.3,654.9 1225.0,662.9 C1229.7,670.9 1234.3,678.5 1239.0,679.9 C1243.7,681.4 1248.3,681.4 1253.0,682.1 C1257.7,682.7 1262.3,682.8 1267.0,683.8 C1271.7,684.9 1276.3,687.1 1281.0,688.4 C1285.7,689.7 1290.3,691.7 1295.0,691.7 C1299.7,691.8 1304.3,691.7 1309.0,691.8 C1313.7,691.8 1318.3,691.9 1323.0,692.0 C1327.7,692.2 1332.3,692.8 1337.0,693.4 C1341.7,694.0 1346.3,695.8 1351.0,695.8 C1355.7,695.8 1360.3,695.1 1365.0,695.1 C1369.7,695.1 1374.3,701.0 1379.0,701.0 C1383.7,701.0 1388.3,699.0 1393.0,698.4 C1398.0,697.9 1403.0,697.6 1408.0,697.6 C1412.7,697.6 1417.3,698.7 1422.0,699.1 C1426.7,699.6 1431.3,700.2 1436.0,700.2 C1440.7,700.2 1445.3,698.9 1450.0,696.2 C1454.7,693.6 1459.3,685.4 1464.0,684.3 C1468.7,683.2 1473.3,682.6 1478.0,682.6 C1482.7,682.6 1487.3,691.4 1492.0,692.1 C1496.7,692.8 1501.3,692.4 1506.0,693.1 C1510.7,693.8 1515.3,696.2 1520.0,696.4 C1524.7,696.7 1529.3,696.8 1534.0,696.8 C1538.7,696.8 1543.3,680.6 1548.0,679.3 C1552.7,677.9 1557.3,678.6 1562.0,677.3 C1566.7,676.0 1571.3,675.3 1576.0,671.5 C1580.7,667.6 1585.3,634.7 1590.0,609.3 C1594.7,583.9 1599.3,547.7 1604.0,519.0 C1609.0,488.4 1614.0,458.3 1619.0,432.1 C1623.7,407.7 1628.3,382.1 1633.0,366.0 C1637.7,349.8 1642.3,345.8 1647.0,335.3 C1651.7,324.9 1656.3,314.9 1661.0,303.4 C1665.7,291.8 1670.3,280.1 1675.0,266.0 C1679.7,251.9 1684.3,233.2 1689.0,218.6 C1693.7,204.0 1698.3,193.3 1703.0,178.4 C1707.7,163.6 1712.3,145.7 1717.0,129.4" fill="none" stroke="#1f7fcc" stroke-width="2.2" stroke-dasharray="8 4.5"/>
<path d="M29.0,1160.7 C33.7,1161.5 38.3,1163.1 43.0,1163.1 C47.7,1163.1 52.3,1161.9 57.0,1160.7 C61.7,1159.5 66.3,1158.1 71.0,1156.1 C75.7,1154.0 80.3,1149.8 85.0,1148.4 C89.7,1147.0 94.3,1146.3 99.0,1146.3 C103.7,1146.3 108.3,1146.9 113.0,1147.7 C117.7,1148.5 122.3,1150.9 127.0,1150.9 C131.7,1150.9 136.3,1144.9 141.0,1144.2 C146.0,1143.5 151.0,1143.8 156.0,1143.1 C160.7,1142.4 165.3,1126.7 170.0,1126.7 C174.7,1126.7 179.3,1127.7 184.0,1127.7 C188.7,1127.7 193.3,1116.0 198.0,1112.0 C202.7,1108.0 207.3,1106.3 212.0,1103.6 C216.7,1100.9 221.3,1099.3 226.0,1095.6 C230.7,1091.9 235.3,1085.0 240.0,1081.2 C244.7,1077.4 249.3,1075.7 254.0,1072.8 C258.7,1069.9 263.3,1066.4 268.0,1063.7 C272.7,1061.0 277.3,1061.4 282.0,1056.7 C286.7,1052.0 291.3,1037.6 296.0,1032.0 C300.7,1026.4 305.3,1023.2 310.0,1023.0 C314.7,1022.9 319.3,1022.8 324.0,1022.8 C328.7,1022.8 333.3,1028.2 338.0,1030.6 C342.7,1033.0 347.3,1035.6 352.0,1037.1 C357.0,1038.7 362.0,1038.8 367.0,1039.7 C371.7,1040.6 376.3,1042.7 381.0,1042.7 C385.7,1042.7 390.3,1038.8 395.0,1036.7 C399.7,1034.6 404.3,1031.0 409.0,1030.2 C413.7,1029.4 418.3,1029.0 423.0,1029.0 C427.7,1029.0 432.3,1029.0 437.0,1029.1 C441.7,1029.1 446.3,1030.0 451.0,1030.0 C455.7,1030.0 460.3,1029.9 465.0,1029.8 C469.7,1029.6 474.3,1027.8 479.0,1027.3 C483.7,1026.8 488.3,1027.1 493.0,1026.6 C497.7,1026.1 502.3,1022.8 507.0,1021.0 C511.7,1019.1 516.3,1015.6 521.0,1015.6 C525.7,1015.6 530.3,1021.6 535.0,1022.1 C539.7,1022.7 544.3,1023.0 549.0,1023.0 C553.7,1023.0 558.3,1003.1 563.0,1003.1 C568.0,1003.1 573.0,1003.6 578.0,1003.6 C582.7,1003.6 587.3,1000.6 592.0,998.0 C596.7,995.4 601.3,992.5 606.0,988.0 C610.7,983.4 615.3,970.5 620.0,970.5 C624.7,970.5 629.3,975.6 634.0,977.9 C638.7,980.3 643.3,980.5 648.0,984.5 C652.7,988.5 657.3,995.7 662.0,1001.7 C666.7,1007.7 671.3,1015.9 676.0,1020.5 C680.7,1025.1 685.3,1026.3 690.0,1029.3 C694.7,1032.4 699.3,1036.1 704.0,1038.9 C708.7,1041.7 713.3,1042.9 718.0,1046.0 C722.7,1049.0 727.3,1053.8 732.0,1057.0 C736.7,1060.3 741.3,1062.8 746.0,1065.5 C750.7,1068.2 755.3,1070.2 760.0,1073.3 C764.7,1076.4 769.3,1081.5 774.0,1084.0 C779.0,1086.7 784.0,1088.4 789.0,1088.4 C793.7,1088.4 798.3,1087.8 803.0,1086.7 C807.7,1085.6 812.3,1080.5 817.0,1078.5 C821.7,1076.5 826.3,1076.2 831.0,1074.8 C835.7,1073.4 840.3,1071.9 845.0,1069.9 C849.7,1067.8 854.3,1064.6 859.0,1062.6 C863.7,1060.5 868.3,1057.5 873.0,1057.5 C877.7,1057.5 882.3,1057.8 887.0,1057.8 C891.7,1057.8 896.3,1055.9 901.0,1055.9 C905.7,1055.9 910.3,1057.7 915.0,1058.7 C919.7,1059.7 924.3,1061.2 929.0,1062.1 C933.7,1062.9 938.3,1063.3 943.0,1063.9 C947.7,1064.6 952.3,1064.5 957.0,1065.7 C961.7,1066.9 966.3,1080.3 971.0,1085.2 C976.0,1090.4 981.0,1091.9 986.0,1095.4 C990.7,1098.6 995.3,1103.0 1000.0,1105.4 C1004.7,1107.8 1009.3,1107.9 1014.0,1109.8 C1018.7,1111.7 1023.3,1114.0 1028.0,1116.7 C1032.7,1119.5 1037.3,1125.2 1042.0,1126.4 C1046.7,1127.5 1051.3,1127.4 1056.0,1128.1 C1060.7,1128.8 1065.3,1129.8 1070.0,1130.7 C1074.7,1131.6 1079.3,1132.9 1084.0,1133.7 C1088.7,1134.5 1093.3,1135.5 1098.0,1135.5 C1102.7,1135.5 1107.3,1132.2 1112.0,1129.9 C1116.7,1127.6 1121.3,1124.8 1126.0,1121.7 C1130.7,1118.6 1135.3,1116.9 1140.0,1111.3 C1144.7,1105.7 1149.3,1096.9 1154.0,1087.9 C1158.7,1078.8 1163.3,1067.8 1168.0,1057.0 C1172.7,1046.2 1177.3,1034.9 1182.0,1023.2 C1187.0,1010.7 1192.0,998.7 1197.0,984.2 C1201.7,970.6 1206.3,956.6 1211.0,939.5 C1215.7,922.5 1220.3,897.2 1225.0,881.7 C1229.7,866.3 1234.3,854.9 1239.0,847.1 C1243.7,839.2 1248.3,839.3 1253.0,834.7 C1257.7,830.1 1262.3,824.1 1267.0,819.2 C1271.7,814.3 1276.3,810.0 1281.0,805.2 C1285.7,800.4 1290.3,790.5 1295.0,790.4 C1299.7,790.3 1304.3,790.3 1309.0,790.3 C1313.7,790.3 1318.3,792.0 1323.0,792.8 C1327.7,793.7 1332.3,794.4 1337.0,795.3 C1341.7,796.1 1346.3,796.1 1351.0,797.9 C1355.7,799.6 1360.3,804.8 1365.0,805.5 C1369.7,806.3 1374.3,805.9 1379.0,806.6 C1383.7,807.3 1388.3,810.7 1393.0,812.7 C1398.0,814.9 1403.0,817.1 1408.0,818.9 C1412.7,820.7 1417.3,822.1 1422.0,823.7 C1426.7,825.4 1431.3,826.4 1436.0,828.9 C1440.7,831.4 1445.3,833.5 1450.0,838.8 C1454.7,844.1 1459.3,860.5 1464.0,860.6 C1468.7,860.7 1473.3,860.6 1478.0,860.7 C1482.7,860.8 1487.3,861.2 1492.0,862.3 C1496.7,863.3 1501.3,868.2 1506.0,869.5 C1510.7,870.7 1515.3,871.3 1520.0,871.3 C1524.7,871.3 1529.3,871.2 1534.0,871.2 C1538.7,871.2 1543.3,881.9 1548.0,882.3 C1552.7,882.8 1557.3,882.6 1562.0,883.1 C1566.7,883.5 1571.3,884.1 1576.0,886.1 C1580.7,888.2 1585.3,907.0 1590.0,921.6 C1594.7,936.3 1599.3,958.5 1604.0,973.9 C1609.0,990.4 1614.0,1005.6 1619.0,1016.6 C1623.7,1026.9 1628.3,1039.2 1633.0,1039.2 C1637.7,1039.2 1642.3,1036.6 1647.0,1035.4 C1651.7,1034.3 1656.3,1033.9 1661.0,1032.4 C1665.7,1030.9 1670.3,1028.1 1675.0,1026.5 C1679.7,1025.0 1684.3,1025.4 1689.0,1023.1 C1693.7,1020.8 1698.3,1016.2 1703.0,1012.9 C1707.7,1009.5 1712.3,1006.3 1717.0,1002.9" fill="none" stroke="#1f7fcc" stroke-width="2.2" stroke-dasharray="8 4.5"/>
<path d="M29.0,940.2 C33.7,942.1 38.3,944.1 43.0,945.9 C47.7,947.6 52.3,949.0 57.0,950.7 C61.7,952.3 66.3,954.0 71.0,956.0 C75.7,958.1 80.3,960.8 85.0,962.7 C89.7,964.6 94.3,965.8 99.0,967.6 C103.7,969.3 108.3,973.2 113.0,973.2 C117.7,973.2 122.3,971.7 127.0,971.7 C131.7,971.7 136.3,974.9 141.0,975.7 C146.0,976.4 151.0,976.1 156.0,976.8 C160.7,977.6 165.3,984.0 170.0,984.0 C174.7,984.0 179.3,982.1 184.0,980.4 C188.7,978.6 193.3,975.4 198.0,973.4 C202.7,971.4 207.3,969.7 212.0,968.3 C216.7,966.9 221.3,966.3 226.0,965.0 C230.7,963.7 235.3,962.1 240.0,960.2 C244.7,958.4 249.3,955.6 254.0,953.6 C258.7,951.6 263.3,948.4 268.0,948.4 C272.7,948.4 277.3,948.4 282.0,948.4 C286.7,948.4 291.3,939.4 296.0,937.4 C300.7,935.5 305.3,934.6 310.0,934.5 C314.7,934.5 319.3,934.5 324.0,934.5 C328.7,934.5 333.3,936.9 338.0,938.3 C342.7,939.6 347.3,941.5 352.0,942.5 C357.0,943.6 362.0,944.4 367.0,944.4 C371.7,944.4 376.3,942.2 381.0,940.8 C385.7,939.3 390.3,935.6 395.0,935.6 C399.7,935.6 404.3,938.1 409.0,938.9 C413.7,939.7 418.3,940.3 423.0,940.3 C427.7,940.3 432.3,940.3 437.0,940.1 C441.7,940.0 446.3,937.3 451.0,937.3 C455.7,937.3 460.3,938.0 465.0,938.0 C469.7,938.0 474.3,936.0 479.0,935.1 C483.7,934.2 488.3,933.7 493.0,932.6 C497.7,931.4 502.3,930.0 507.0,928.2 C511.7,926.4 516.3,923.7 521.0,921.8 C525.7,920.0 530.3,918.2 535.0,917.1 C539.7,915.9 544.3,916.3 549.0,914.9 C553.7,913.5 558.3,907.3 563.0,906.1 C568.0,904.8 573.0,905.4 578.0,904.1 C582.7,903.0 587.3,900.6 592.0,899.0 C596.7,897.5 601.3,896.3 606.0,894.8 C610.7,893.3 615.3,890.0 620.0,890.0 C624.7,890.0 629.3,890.7 634.0,891.1 C638.7,891.5 643.3,891.6 648.0,892.4 C652.7,893.3 657.3,897.2 662.0,899.4 C666.7,901.7 671.3,904.1 676.0,905.8 C680.7,907.6 685.3,908.7 690.0,910.0 C694.7,911.4 699.3,912.8 704.0,914.1 C708.7,915.4 713.3,916.2 718.0,917.9 C722.7,919.6 727.3,922.5 732.0,924.3 C736.7,926.1 741.3,927.1 746.0,928.7 C750.7,930.2 755.3,931.6 760.0,933.5 C764.7,935.4 769.3,938.3 774.0,940.1 C779.0,942.1 784.0,943.3 789.0,944.8 C793.7,946.2 798.3,947.0 803.0,948.7 C807.7,950.4 812.3,953.3 817.0,955.2 C821.7,957.0 826.3,958.1 831.0,959.8 C835.7,961.5 840.3,963.5 845.0,965.5 C849.7,967.4 854.3,968.9 859.0,971.4 C863.7,973.9 868.3,977.6 873.0,980.4 C877.7,983.3 882.3,986.0 887.0,988.4 C891.7,990.9 896.3,994.7 901.0,995.3 C905.7,995.9 910.3,995.8 915.0,996.2 C919.7,996.6 924.3,997.4 929.0,997.9 C933.7,998.3 938.3,998.9 943.0,998.9 C947.7,998.9 952.3,996.2 957.0,994.3 C961.7,992.3 966.3,989.5 971.0,987.2 C976.0,984.7 981.0,982.4 986.0,979.8 C990.7,977.4 995.3,974.9 1000.0,972.1 C1004.7,969.3 1009.3,966.1 1014.0,962.8 C1018.7,959.4 1023.3,955.9 1028.0,951.9 C1032.7,947.9 1037.3,943.5 1042.0,938.8 C1046.7,934.1 1051.3,928.6 1056.0,924.0 C1060.7,919.3 1065.3,914.6 1070.0,910.7 C1074.7,906.8 1079.3,904.1 1084.0,900.4 C1088.7,896.7 1093.3,892.1 1098.0,888.7 C1102.7,885.2 1107.3,882.9 1112.0,879.6 C1116.7,876.3 1121.3,872.5 1126.0,868.7 C1130.7,864.9 1135.3,861.2 1140.0,856.8 C1144.7,852.4 1149.3,847.0 1154.0,842.3 C1158.7,837.6 1163.3,833.1 1168.0,828.7 C1172.7,824.4 1177.3,820.5 1182.0,816.2 C1187.0,811.6 1192.0,807.3 1197.0,802.0 C1201.7,797.1 1206.3,790.7 1211.0,785.7 C1215.7,780.8 1220.3,776.0 1225.0,772.3 C1229.7,768.6 1234.3,765.8 1239.0,763.5 C1243.7,761.2 1248.3,760.4 1253.0,758.4 C1257.7,756.4 1262.3,753.5 1267.0,751.5 C1271.7,749.6 1276.3,748.5 1281.0,746.8 C1285.7,745.0 1290.3,741.1 1295.0,741.1 C1299.7,741.0 1304.3,741.0 1309.0,741.0 C1313.7,741.0 1318.3,741.9 1323.0,742.4 C1327.7,743.0 1332.3,743.6 1337.0,744.3 C1341.7,745.1 1346.3,745.8 1351.0,746.8 C1355.7,747.8 1360.3,749.1 1365.0,750.3 C1369.7,751.5 1374.3,752.9 1379.0,753.8 C1383.7,754.7 1388.3,754.9 1393.0,755.6 C1398.0,756.3 1403.0,757.2 1408.0,758.3 C1412.7,759.2 1417.3,760.4 1422.0,761.4 C1426.7,762.5 1431.3,763.5 1436.0,764.5 C1440.7,765.6 1445.3,766.2 1450.0,767.5 C1454.7,768.8 1459.3,772.4 1464.0,772.4 C1468.7,772.4 1473.3,771.7 1478.0,771.7 C1482.7,771.7 1487.3,775.6 1492.0,777.2 C1496.7,778.8 1501.3,780.2 1506.0,781.3 C1510.7,782.4 1515.3,783.8 1520.0,783.9 C1524.7,784.0 1529.3,784.0 1534.0,784.0 C1538.7,784.0 1543.3,781.2 1548.0,780.8 C1552.7,780.4 1557.3,780.5 1562.0,780.2 C1566.7,779.8 1571.3,779.7 1576.0,778.8 C1580.7,777.9 1585.3,770.9 1590.0,765.5 C1594.7,760.1 1599.3,753.1 1604.0,746.5 C1609.0,739.4 1614.0,732.0 1619.0,724.4 C1623.7,717.3 1628.3,709.1 1633.0,702.6 C1637.7,696.1 1642.3,691.2 1647.0,685.4 C1651.7,679.6 1656.3,674.4 1661.0,667.9 C1665.7,661.4 1670.3,654.1 1675.0,646.3 C1679.7,638.4 1684.3,629.3 1689.0,620.8 C1693.7,612.4 1698.3,604.7 1703.0,595.6 C1707.7,586.5 1712.3,576.0 1717.0,566.2" fill="none" stroke="#2190ea" stroke-width="2.8"/>
<rect x="1696" y="290" width="14" height="12" fill="#d4831f"/>
<rect x="1710" y="212" width="14" height="7" fill="#26a69a"/>
<rect x="20" y="213.65" width="2106" height="2" fill="rgba(200,205,215,0.4)"/>
<line x1="1726" y1="40" x2="1726" y2="1168" stroke="#3e3f45" stroke-width="2" stroke-dasharray="8 8"/>
<text x="1727.5" y="130" font-family="Liberation Sans" font-size="18" fill="#2196f3">BB</text>
<text x="2145.5" y="75.9" font-family="Liberation Sans" font-size="23.0" fill="#878a94" text-anchor="start" font-weight="normal" textLength="102" lengthAdjust="spacingAndGlyphs">76.00000</text>
<text x="2145.5" y="360.5" font-family="Liberation Sans" font-size="23.0" fill="#878a94" text-anchor="start" font-weight="normal" textLength="102" lengthAdjust="spacingAndGlyphs">72.00000</text>
<text x="2145.5" y="502.80000000000007" font-family="Liberation Sans" font-size="23.0" fill="#878a94" text-anchor="start" font-weight="normal" textLength="102" lengthAdjust="spacingAndGlyphs">70.00000</text>
<text x="2145.5" y="645.1" font-family="Liberation Sans" font-size="23.0" fill="#878a94" text-anchor="start" font-weight="normal" textLength="102" lengthAdjust="spacingAndGlyphs">68.00000</text>
<text x="2145.5" y="787.4" font-family="Liberation Sans" font-size="23.0" fill="#878a94" text-anchor="start" font-weight="normal" textLength="102" lengthAdjust="spacingAndGlyphs">66.00000</text>
<text x="2145.5" y="929.7" font-family="Liberation Sans" font-size="23.0" fill="#878a94" text-anchor="start" font-weight="normal" textLength="102" lengthAdjust="spacingAndGlyphs">64.00000</text>
<text x="2145.5" y="1072.0000000000002" font-family="Liberation Sans" font-size="23.0" fill="#878a94" text-anchor="start" font-weight="normal" textLength="102" lengthAdjust="spacingAndGlyphs">62.00000</text>
<rect x="2136.2" y="194.7" width="131.3" height="39.5" rx="6" fill="#2962ff"/>
<text x="2147" y="222.9" font-family="Liberation Sans" font-size="23" fill="#ffffff" text-anchor="start" font-weight="bold" textLength="113.7" lengthAdjust="spacingAndGlyphs">73.94000</text>
<rect x="28.5" y="1170" width="2" height="12" fill="#181c26"/>
<text x="29.5" y="1204" font-family="Liberation Sans" font-size="22" fill="#878a94" text-anchor="middle" font-weight="normal" textLength="131" lengthAdjust="spacingAndGlyphs">01:00 03/02</text>
<rect x="239" y="1170" width="2" height="12" fill="#181c26"/>
<text x="240" y="1204" font-family="Liberation Sans" font-size="22" fill="#878a94" text-anchor="middle" font-weight="normal" textLength="131" lengthAdjust="spacingAndGlyphs">01:00 06/02</text>
<rect x="450" y="1170" width="2" height="12" fill="#181c26"/>
<text x="451" y="1204" font-family="Liberation Sans" font-size="22" fill="#878a94" text-anchor="middle" font-weight="normal" textLength="131" lengthAdjust="spacingAndGlyphs">13:00 10/02</text>
<rect x="661" y="1170" width="2" height="12" fill="#181c26"/>
<text x="662" y="1204" font-family="Liberation Sans" font-size="22" fill="#878a94" text-anchor="middle" font-weight="normal" textLength="131" lengthAdjust="spacingAndGlyphs">01:00 13/02</text>
<rect x="872" y="1170" width="2" height="12" fill="#181c26"/>
<text x="873" y="1204" font-family="Liberation Sans" font-size="22" fill="#878a94" text-anchor="middle" font-weight="normal" textLength="131" lengthAdjust="spacingAndGlyphs">13:00 17/02</text>
<rect x="1083" y="1170" width="2" height="12" fill="#181c26"/>
<text x="1084" y="1204" font-family="Liberation Sans" font-size="22" fill="#878a94" text-anchor="middle" font-weight="normal" textLength="131" lengthAdjust="spacingAndGlyphs">01:00 20/02</text>
<rect x="1294" y="1170" width="2" height="12" fill="#181c26"/>
<text x="1295" y="1204" font-family="Liberation Sans" font-size="22" fill="#878a94" text-anchor="middle" font-weight="normal" textLength="131" lengthAdjust="spacingAndGlyphs">13:00 24/02</text>
<rect x="1505" y="1170" width="2" height="12" fill="#181c26"/>
<text x="1506" y="1204" font-family="Liberation Sans" font-size="22" fill="#878a94" text-anchor="middle" font-weight="normal" textLength="131" lengthAdjust="spacingAndGlyphs">01:00 27/02</text>
<rect x="1716" y="1170" width="2" height="12" fill="#181c26"/>
<text x="1717" y="1204" font-family="Liberation Sans" font-size="22" fill="#878a94" text-anchor="middle" font-weight="normal" textLength="131" lengthAdjust="spacingAndGlyphs">11:00 03/03</text>
<rect x="0" y="1270" width="2286" height="14" fill="#1e222d"/>
<rect x="0" y="1270" width="2286" height="2" fill="#2a2e39"/>
<rect x="1104" y="1276" width="80" height="4" rx="2" fill="#363a45"/>
<rect x="20" y="1333" width="2106" height="2" fill="#2a2e39"/>
<rect x="20" y="1481" width="2106" height="2" fill="#2a2e39"/>
<rect x="20" y="1377.5" width="2106" height="2" fill="#2a2e39"/>
<line x1="20" y1="1378.5" x2="2126" y2="1378.5" stroke="#8c4447" stroke-width="2" stroke-dasharray="6 6"/>
<rect x="20" y="1407" width="2106" height="2" fill="#2a2e39"/>
<line x1="20" y1="1408" x2="2126" y2="1408" stroke="#6b6d73" stroke-width="2" stroke-dasharray="6 6"/>
<rect x="20" y="1436.6" width="2106" height="2" fill="#2a2e39"/>
<line x1="20" y1="1437.6" x2="2126" y2="1437.6" stroke="#2a7a72" stroke-width="2" stroke-dasharray="6 6"/>
<path d="M20.0,1421.7 L34.2,1419.1 L48.4,1418.4 L62.6,1411.7 L76.8,1425.7 L91.1,1399.5 L105.3,1391.1 L119.5,1376.7 L133.7,1386.4 L147.9,1386.4 L162.1,1394.6 L176.3,1391.6 L190.5,1395.5 L204.7,1392.1 L218.9,1403.0 L233.2,1408.8 L247.4,1406.1 L261.6,1406.5 L275.8,1418.4 L290.0,1404.4 L304.2,1404.4 L318.4,1423.1 L332.6,1420.5 L346.8,1417.9 L361.0,1411.7 L375.2,1403.0 L389.5,1399.6 L403.7,1402.3 L417.9,1399.8 L432.1,1399.0 L446.3,1403.9 L460.5,1409.1 L474.7,1388.5 L488.9,1407.7 L503.1,1392.8 L517.4,1381.6 L531.6,1368.0 L545.8,1381.1 L560.0,1384.1 L574.2,1406.0 L588.4,1396.0 L602.6,1404.7 L616.8,1404.7 L631.0,1430.5 L645.2,1431.9 L659.5,1427.5 L673.7,1432.2 L687.9,1426.3 L702.1,1427.1 L716.3,1434.5 L730.5,1451.6 L744.7,1444.5 L758.9,1444.5 L773.1,1447.5 L787.3,1436.5 L801.6,1417.9 L815.8,1416.1 L830.0,1387.9 L844.2,1398.6 L858.4,1399.3 L872.6,1411.9 L886.8,1424.9 L901.0,1420.7 L915.2,1423.5 L929.4,1414.6 L943.7,1414.6 L957.9,1391.0 L972.1,1374.1 L986.3,1379.1 L1000.5,1384.0 L1014.7,1381.8 L1028.9,1374.1 L1043.1,1364.7 L1057.3,1362.5 L1071.5,1340.9 L1085.8,1338.0 L1100.0,1338.0 L1114.2,1359.2 L1128.4,1358.4 L1142.6,1358.4 L1156.8,1366.5 L1171.0,1391.0 L1185.2,1393.4 L1199.4,1390.1 L1213.6,1383.3 L1227.9,1400.8 L1242.1,1410.9 L1256.3,1410.2 L1270.5,1405.2 L1284.7,1408.5 L1298.9,1408.0 L1313.1,1411.3 L1327.3,1411.3 L1341.5,1414.1 L1355.7,1413.5 L1370.0,1412.4 L1384.2,1405.8 L1398.4,1419.0 L1412.6,1432.5 L1426.8,1420.5 L1441.0,1422.2 L1455.2,1432.5 L1469.4,1450.7 L1483.6,1408.7 L1497.8,1423.8 L1512.1,1416.8 L1526.3,1413.9 L1540.5,1403.6 L1554.7,1392.7 L1568.9,1398.8 L1583.1,1397.1 L1597.3,1381.3 L1611.5,1374.6 L1625.7,1372.4 L1639.9,1372.6 L1654.2,1382.2 L1668.4,1375.7 L1682.6,1380.0 L1696.8,1368.7 L1711.0,1365.8 L1725.2,1364.3" fill="none" stroke="#2962ff" stroke-width="3" stroke-linejoin="round"/>
<text x="2133.4" y="1341.4" font-family="Liberation Sans" font-size="21.5" fill="#878a94" text-anchor="start" font-weight="normal" textLength="39.5" lengthAdjust="spacingAndGlyphs">100</text>
<text x="2133.4" y="1385" font-family="Liberation Sans" font-size="21.5" fill="#878a94" text-anchor="start" font-weight="normal" textLength="26" lengthAdjust="spacingAndGlyphs">70</text>
<text x="2133.4" y="1415" font-family="Liberation Sans" font-size="21.5" fill="#878a94" text-anchor="start" font-weight="normal" textLength="26" lengthAdjust="spacingAndGlyphs">50</text>
<text x="2133.4" y="1445.2" font-family="Liberation Sans" font-size="21.5" fill="#878a94" text-anchor="start" font-weight="normal" textLength="26" lengthAdjust="spacingAndGlyphs">30</text>
<text x="2133.4" y="1489" font-family="Liberation Sans" font-size="21.5" fill="#878a94" text-anchor="start" font-weight="normal" textLength="12.5" lengthAdjust="spacingAndGlyphs">0</text>
<text x="21" y="1314.2" font-family="Liberation Sans" font-size="23.2" fill="#c5c6ca" text-anchor="start" font-weight="bold" textLength="40.5" lengthAdjust="spacingAndGlyphs">RSI</text>
<text x="85.5" y="1318.4" font-family="Liberation Sans" font-size="34" fill="#e3e4e7" text-anchor="start" font-weight="normal" textLength="61.5" lengthAdjust="spacingAndGlyphs">(14)</text>
<text x="170.5" y="1315.5" font-family="Liberation Mono" font-size="24" fill="#f0555a" text-anchor="start" font-weight="normal" textLength="63" lengthAdjust="spacingAndGlyphs">79.66</text>
<rect x="2226" y="1288" width="40" height="40" rx="7" fill="#2a2e39"/>
<path d="M2238.5,1301.5 L2253.5,1316.5 M2253.5,1301.5 L2238.5,1316.5" stroke="#9598a1" stroke-width="1.8"/>
<text x="50.5" y="70.2" font-family="Liberation Mono" font-size="23.4" fill="#6e7079" text-anchor="start" font-weight="bold" textLength="11.7" lengthAdjust="spacingAndGlyphs">O</text>
<text x="75.5" y="70.2" font-family="Liberation Mono" font-size="23.4" fill="#e8e8ea" text-anchor="start" font-weight="bold" textLength="93.2" lengthAdjust="spacingAndGlyphs">73.94000</text>
<text x="244" y="70.2" font-family="Liberation Mono" font-size="23.4" fill="#6e7079" text-anchor="start" font-weight="bold" textLength="11.7" lengthAdjust="spacingAndGlyphs">H</text>
<text x="269.5" y="70.2" font-family="Liberation Mono" font-size="23.4" fill="#26a69a" text-anchor="start" font-weight="bold" textLength="93.2" lengthAdjust="spacingAndGlyphs">73.94000</text>
<text x="438.5" y="70.2" font-family="Liberation Mono" font-size="23.4" fill="#6e7079" text-anchor="start" font-weight="bold" textLength="11.7" lengthAdjust="spacingAndGlyphs">L</text>
<text x="463" y="70.2" font-family="Liberation Mono" font-size="23.4" fill="#ef5350" text-anchor="start" font-weight="bold" textLength="93.2" lengthAdjust="spacingAndGlyphs">73.94000</text>
<text x="632.5" y="70.2" font-family="Liberation Mono" font-size="23.4" fill="#6e7079" text-anchor="start" font-weight="bold" textLength="11.7" lengthAdjust="spacingAndGlyphs">C</text>
<text x="656.5" y="70.2" font-family="Liberation Mono" font-size="23.4" fill="#26a69a" text-anchor="start" font-weight="bold" textLength="94.4" lengthAdjust="spacingAndGlyphs">73.94000</text>
<text x="826.5" y="70.2" font-family="Liberation Mono" font-size="23.4" fill="#26a69a" text-anchor="start" font-weight="bold" textLength="94.4" lengthAdjust="spacingAndGlyphs">+0.00000</text>
<text x="1016.5" y="70.2" font-family="Liberation Mono" font-size="23.4" fill="#26a69a" text-anchor="start" font-weight="bold" textLength="94.4" lengthAdjust="spacingAndGlyphs">(+0.00%)</text>
<path d="M23.5,67.9 Q34,54.900000000000006 44.5,67.9 Q34,80.9 23.5,67.9 Z" fill="none" stroke="#4a4d57" stroke-width="1.6"/>
<circle cx="34" cy="67.9" r="3.4" fill="#4a4d57"/>
<path d="M23.5,126 Q34,113 44.5,126 Q34,139 23.5,126 Z" fill="none" stroke="#4a4d57" stroke-width="1.6"/>
<circle cx="34" cy="126" r="3.4" fill="#4a4d57"/>
<text x="51.5" y="164.3" font-family="Liberation Mono" font-size="25.8" fill="#6c6f79" text-anchor="start" font-weight="normal" textLength="270.9" lengthAdjust="spacingAndGlyphs">3 March 2026, Tuesday</text>
<text x="50.5" y="191.8" font-family="Liberation Mono" font-size="21" fill="#52555f" text-anchor="start" font-weight="normal" textLength="195.8" lengthAdjust="spacingAndGlyphs">UTC+3 (Local Time)</text>
<path fill="#2658e3" fill-rule="evenodd" d="M50.06,95.83 L61.43,83.05 L67.37,83.05 L67.37,119.97 L61.33,119.97 L61.33,91.60 L57.31,95.83 Z M70.49,95.83 L81.86,83.05 L87.79,83.05 L87.79,119.97 L81.75,119.97 L81.75,91.60 L77.73,95.83 Z M93.33,90.09 L99.36,90.09 L99.36,95.83 L93.33,95.83 Z M93.33,114.24 L99.36,114.24 L99.36,119.97 L93.33,119.97 Z M113.45,83.05 L134.58,83.05 A8.05,8.05 0 0 1 142.63,91.10 L142.63,111.93 A8.05,8.05 0 0 1 134.58,119.97 L113.45,119.97 A8.05,8.05 0 0 1 105.40,111.93 L105.40,91.10 A8.05,8.05 0 0 1 113.45,83.05 Z M111.23,89.09 L134.58,89.09 L111.23,108.20 Z M113.95,114.04 L137.09,95.12 L137.09,114.04 Z M145.85,83.05 L169.79,83.05 A7.04,7.04 0 0 1 176.83,90.09 L176.83,119.97 L171.30,119.97 L171.30,89.09 L145.85,89.09 Z M182.67,90.09 L188.71,90.09 L188.71,95.83 L182.67,95.83 Z M182.67,114.24 L188.71,114.24 L188.71,119.97 L182.67,119.97 Z M191.93,95.83 L203.30,83.05 L209.23,83.05 L209.23,119.97 L203.20,119.97 L203.20,91.60 L199.17,95.83 Z M223.12,83.05 L244.25,83.05 A8.05,8.05 0 0 1 252.29,91.10 L252.29,111.93 A8.05,8.05 0 0 1 244.25,119.97 L223.12,119.97 A8.05,8.05 0 0 1 215.07,111.93 L215.07,91.10 A8.05,8.05 0 0 1 223.12,83.05 Z M220.90,89.09 L244.25,89.09 L220.90,108.20 Z M223.62,114.04 L246.76,95.12 L246.76,114.04 Z"/>
</svg></body></html>
